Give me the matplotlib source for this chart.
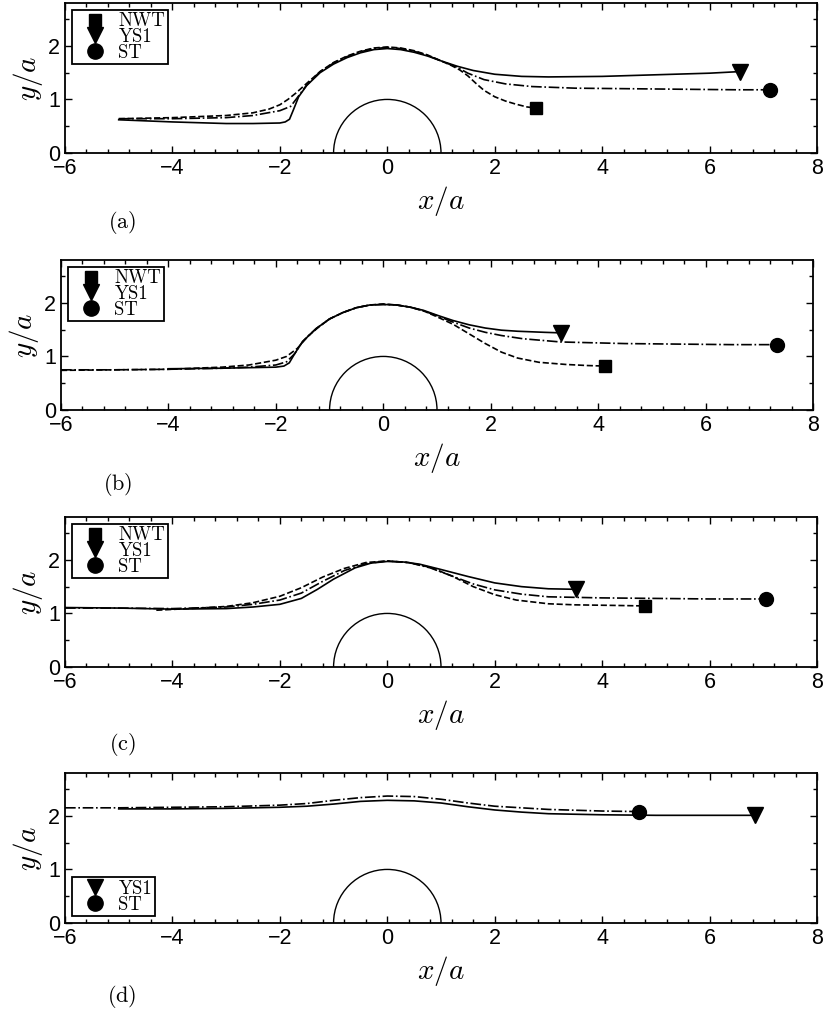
import matplotlib.pyplot as plt
import numpy as np
from matplotlib.patches import Arc
from matplotlib.lines import Line2D
from matplotlib.ticker import MultipleLocator

plt.rcParams['font.family'] = ['Liberation Sans', 'DejaVu Sans']
plt.rcParams['mathtext.fontset'] = 'cm'

# ---- panel (a) ----
nwt_a_x = [-5, -4, -3, -2.5, -2.2, -2, -1.85, -1.7, -1.5, -1.25, -1, -0.75, -0.5, -0.25, 0, 0.25, 0.5, 0.75, 1, 1.2, 1.35, 1.5, 1.65, 1.8, 2.0, 2.2, 2.4, 2.6, 2.76]
nwt_a_y = [0.64, 0.66, 0.70, 0.75, 0.82, 0.9, 1.0, 1.12, 1.3, 1.52, 1.69, 1.81, 1.9, 1.96, 1.98, 1.96, 1.91, 1.83, 1.72, 1.63, 1.55, 1.44, 1.3, 1.17, 1.05, 0.97, 0.91, 0.86, 0.84]
ys1_a_x = [-5, -4, -3, -2.5, -2, -1.9, -1.82, -1.75, -1.65, -1.5, -1.25, -1, -0.75, -0.5, -0.25, 0, 0.25, 0.5, 0.75, 1, 1.3, 1.6, 2, 2.5, 3, 4, 5, 6, 6.57]
ys1_a_y = [0.62, 0.58, 0.55, 0.55, 0.56, 0.58, 0.63, 0.8, 1.05, 1.26, 1.5, 1.66, 1.78, 1.87, 1.93, 1.95, 1.93, 1.88, 1.81, 1.72, 1.62, 1.54, 1.47, 1.43, 1.42, 1.43, 1.46, 1.49, 1.52]
st_a_x = [-5, -4, -3, -2.5, -2, -1.8, -1.7, -1.5, -1.25, -1, -0.75, -0.5, -0.25, 0, 0.25, 0.5, 0.75, 1, 1.3, 1.5, 1.8, 2.2, 2.7, 3.5, 4.5, 5.5, 6.5, 7.12]
st_a_y = [0.64, 0.64, 0.66, 0.7, 0.79, 0.87, 1.0, 1.27, 1.52, 1.68, 1.8, 1.89, 1.95, 1.97, 1.95, 1.9, 1.82, 1.72, 1.6, 1.49, 1.37, 1.29, 1.24, 1.21, 1.2, 1.19, 1.18, 1.18]

# ---- panel (b) ----
nwt_b_x = [-6, -5, -4, -3, -2.5, -2, -1.8, -1.6, -1.4, -1.2, -1, -0.75, -0.5, -0.25, 0, 0.25, 0.5, 0.75, 1, 1.3, 1.6, 1.9, 2.2, 2.5, 2.9, 3.4, 3.8, 4.13]
nwt_b_y = [0.74, 0.75, 0.76, 0.8, 0.84, 0.93, 1.0, 1.15, 1.38, 1.55, 1.7, 1.82, 1.91, 1.96, 1.98, 1.96, 1.92, 1.85, 1.74, 1.6, 1.42, 1.24, 1.08, 0.97, 0.89, 0.85, 0.83, 0.82]
ys1_b_x = [-4, -3, -2.5, -2, -1.85, -1.75, -1.65, -1.5, -1.25, -1, -0.75, -0.5, -0.25, 0, 0.25, 0.5, 0.75, 1, 1.3, 1.6, 1.9, 2.2, 2.5, 3, 3.3]
ys1_b_y = [0.77, 0.78, 0.79, 0.8, 0.82, 0.88, 1.05, 1.28, 1.52, 1.7, 1.82, 1.91, 1.96, 1.97, 1.96, 1.92, 1.86, 1.77, 1.67, 1.59, 1.53, 1.49, 1.47, 1.45, 1.44]
st_b_x = [-6, -5, -4, -3, -2.5, -2, -1.8, -1.65, -1.5, -1.25, -1, -0.75, -0.5, -0.25, 0, 0.25, 0.5, 0.75, 1, 1.3, 1.6, 1.9, 2.2, 2.6, 3.3, 4.5, 5.5, 6.5, 7.33]
st_b_y = [0.75, 0.75, 0.76, 0.78, 0.8, 0.84, 0.9, 1.05, 1.28, 1.52, 1.7, 1.82, 1.91, 1.96, 1.97, 1.96, 1.92, 1.85, 1.76, 1.64, 1.53, 1.45, 1.39, 1.33, 1.27, 1.24, 1.23, 1.22, 1.22]

# ---- panel (c) ----
nwt_c_x = [-4.3, -3.5, -3, -2.5, -2, -1.6, -1.2, -0.8, -0.4, 0, 0.4, 0.8, 1.2, 1.6, 2, 2.4, 3, 3.5, 4.2, 4.79]
nwt_c_y = [1.06, 1.1, 1.13, 1.2, 1.32, 1.48, 1.68, 1.84, 1.95, 1.98, 1.95, 1.86, 1.7, 1.5, 1.35, 1.25, 1.18, 1.16, 1.15, 1.14]
ys1_c_x = [-6, -5, -4, -3, -2.5, -2, -1.6, -1.3, -1, -0.6, -0.3, 0, 0.3, 0.6, 1, 1.5, 2, 2.5, 3, 3.52]
ys1_c_y = [1.11, 1.1, 1.08, 1.09, 1.12, 1.17, 1.28, 1.45, 1.64, 1.85, 1.94, 1.97, 1.96, 1.92, 1.82, 1.69, 1.57, 1.5, 1.46, 1.45]
st_c_x = [-6, -5, -4, -3, -2.5, -2, -1.6, -1.2, -0.8, -0.4, 0, 0.4, 0.8, 1.2, 1.6, 2, 2.5, 3, 4, 5, 6, 7.05]
st_c_y = [1.1, 1.1, 1.09, 1.12, 1.17, 1.25, 1.38, 1.6, 1.8, 1.93, 1.98, 1.95, 1.85, 1.7, 1.55, 1.44, 1.36, 1.31, 1.29, 1.28, 1.27, 1.27]

# ---- panel (d) ----
ys1_d_x = [-5, -4, -3, -2, -1.5, -1, -0.5, 0, 0.5, 1, 1.5, 2, 2.5, 3, 4, 5, 6, 6.84]
ys1_d_y = [2.13, 2.13, 2.14, 2.16, 2.18, 2.22, 2.27, 2.29, 2.28, 2.24, 2.17, 2.11, 2.07, 2.04, 2.02, 2.01, 2.01, 2.01]
st_d_x = [-6, -5, -4, -3, -2, -1.5, -1, -0.5, 0, 0.5, 1, 1.5, 2, 2.5, 3, 4, 4.68]
st_d_y = [2.15, 2.15, 2.16, 2.17, 2.2, 2.23, 2.29, 2.34, 2.37, 2.36, 2.31, 2.24, 2.18, 2.15, 2.12, 2.09, 2.08]

panel_labels = ['(a)', '(b)', '(c)', '(d)']

W, H = 826, 1015
fig = plt.figure(figsize=(W / 100, H / 100), dpi=100)

# axes boxes in pixels: left, top, right, bottom
boxes = [(65, 3, 817, 153), (61, 260, 813, 410), (65, 517, 817, 667), (65, 773, 817, 923)]
label_pos = [(122, 222), (118, 485), (122, 745), (122, 997)]

series = [
    [(nwt_a_x, nwt_a_y), (ys1_a_x, ys1_a_y), (st_a_x, st_a_y)],
    [(nwt_b_x, nwt_b_y), (ys1_b_x, ys1_b_y), (st_b_x, st_b_y)],
    [(nwt_c_x, nwt_c_y), (ys1_c_x, ys1_c_y), (st_c_x, st_c_y)],
    [None, (ys1_d_x, ys1_d_y), (st_d_x, st_d_y)],
]
styles = [('--', 's', 8), ('-', 'v', 11), ('-.', 'o', 10)]
names = ['NWT', 'YS1', 'ST']

for i in range(4):
    l, t, r, b = boxes[i]
    ax = fig.add_axes([l / W, 1 - b / H, (r - l) / W, (b - t) / H])
    handles = []
    for s, st in zip(series[i], styles):
        if s is None:
            continue
        xs, ys = s
        ax.plot(xs, ys, color='k', linestyle=st[0], linewidth=1.2)
        ax.plot(xs[-1], ys[-1], color='k', marker=st[1], markersize=st[2], linestyle='none')
    for s, st, nm in zip(series[i], styles, names):
        if s is None:
            continue
        handles.append(Line2D([], [], color='k', marker=st[1], markersize=st[2] + 1, linestyle='none', label=nm))

    # the cylinder
    ax.add_patch(Arc((0, 0), 2, 2, theta1=0, theta2=180, color='k', linewidth=1.0))

    ax.set_xlim(-6, 8)
    ax.set_ylim(0, 2.8)
    ax.xaxis.set_major_locator(MultipleLocator(2))
    ax.xaxis.set_minor_locator(MultipleLocator(0.4))
    ax.yaxis.set_major_locator(MultipleLocator(1))
    ax.yaxis.set_minor_locator(MultipleLocator(0.5))
    ax.tick_params(which='both', direction='in', top=True, right=True, labelsize=15.5, width=1.0)
    ax.tick_params(which='major', length=5)
    ax.tick_params(which='minor', length=3)
    for sp in ax.spines.values():
        sp.set_linewidth(1.3)
    ax.set_xlabel('$x/a$', fontsize=21, labelpad=4)
    ax.set_ylabel('$y/a$', fontsize=21, labelpad=2)

    loc = 'lower left' if i == 3 else 'upper left'
    leg = ax.legend(handles=handles, loc=loc, prop={'family': 'cmr10', 'size': 13.5},
                    labelspacing=-0.12, handlelength=2.2, handletextpad=0.15, borderpad=0.15,
                    borderaxespad=0.35, fancybox=False, framealpha=1, edgecolor='k')
    leg.get_frame().set_linewidth(1.3)

    lx, ly = label_pos[i]
    fig.text(lx / W, 1 - ly / H, r'$\mathrm{' + panel_labels[i] + '}$', fontsize=16, ha='center', va='center')

plt.savefig('out.png', dpi=100)
